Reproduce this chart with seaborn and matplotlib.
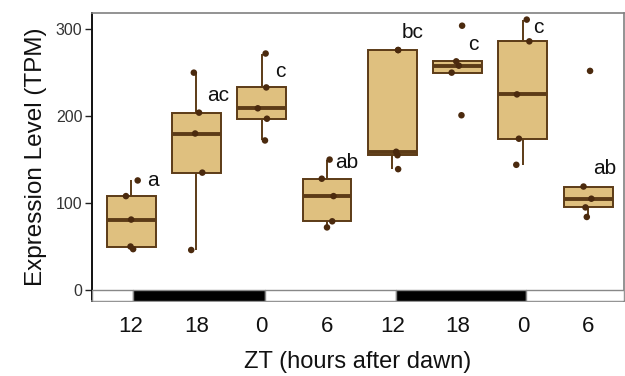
import numpy as np
import pandas as pd
import matplotlib
matplotlib.use("Agg")
import matplotlib.pyplot as plt
import seaborn as sns

# ---- data ----
zt_labels = ["12", "18", "0", "6", "12", "18", "0", "6"]
tpm_g1 = [126, 108, 81, 50, 47]
tpm_g2 = [250, 204, 180, 135, 46]
tpm_g3 = [272, 233, 209, 197, 172]
tpm_g4 = [150, 128, 108, 79, 72]
tpm_g5 = [276, 276, 159, 155, 139]
tpm_g6 = [304, 263, 258, 250, 201]
tpm_g7 = [311, 286, 225, 174, 144]
tpm_g8 = [252, 119, 105, 95, 84]
# horizontal jitter of each dot as seen in the reference (category units)
jit_g1 = [0.10, -0.08, 0.00, -0.01, 0.03]
jit_g2 = [-0.04, 0.04, -0.02, 0.09, -0.08]
jit_g3 = [0.06, 0.07, -0.06, 0.08, 0.05]
jit_g4 = [0.04, -0.08, 0.10, 0.08, 0.00]
jit_g5 = [0.09, 0.09, 0.06, 0.08, 0.09]
jit_g6 = [0.07, -0.02, 0.02, -0.09, 0.06]
jit_g7 = [0.06, 0.10, -0.09, -0.06, -0.10]
jit_g8 = [0.03, -0.07, 0.05, -0.04, -0.02]
sig_letters = ["a", "ac", "c", "ab", "bc", "c", "c", "ab"]
# light/dark bar: index boundaries of dark periods
dark_periods = [(0.03, 2.05), (4.05, 6.05)]

groups = [tpm_g1, tpm_g2, tpm_g3, tpm_g4, tpm_g5, tpm_g6, tpm_g7, tpm_g8]
jits = [jit_g1, jit_g2, jit_g3, jit_g4, jit_g5, jit_g6, jit_g7, jit_g8]

rows = []
for i, (vals, jj) in enumerate(zip(groups, jits)):
    for v, j in zip(vals, jj):
        rows.append({"grp": i, "tpm": v, "xpos": i + j})
df = pd.DataFrame(rows)

sns.set_style("white")
plt.rcParams["font.family"] = ["Liberation Sans", "DejaVu Sans"]

fill = "#DFC07F"
edge = "#5C3B17"
dot = "#4B2A0E"

fig = plt.figure(figsize=(6.25, 3.76), dpi=100)
ax = fig.add_axes([0.1472, 0.1995, 0.8512, 0.7659])

sns.boxplot(data=df, x="grp", y="tpm", order=list(range(8)), ax=ax,
            color=fill, linecolor=edge, linewidth=1.4, width=0.75,
            showfliers=False, showcaps=False, saturation=1,
            medianprops={"linewidth": 2.8, "color": edge},
            whiskerprops={"linewidth": 1.4, "color": edge},
            boxprops={"edgecolor": edge})
sns.scatterplot(data=df, x="xpos", y="tpm", ax=ax, color=dot, s=22,
                edgecolor="none", zorder=5, legend=False)

# significance letters
lab_dx = [0.33, 0.33, 0.28, 0.30, 0.31, 0.24, 0.23, 0.26]
lab_y = [126, 224, 251, 147, 296, 282, 302, 140]
for i, (t, dx, yy) in enumerate(zip(sig_letters, lab_dx, lab_y)):
    ax.text(i + dx, yy, t, ha="center", va="center", fontsize=15, color="#111111")

xl = (-0.6, 7.55)
yl = (-12.65, 318.6)
ax.set_xlim(*xl)
ax.set_ylim(*yl)

# light/dark bar below zero
segs = []
cols = []
edges = [xl[0]]
for a, b in dark_periods:
    edges += [a, b]
edges.append(xl[1])
for k in range(len(edges) - 1):
    segs.append((edges[k], edges[k + 1] - edges[k]))
    cols.append("white" if k % 2 == 0 else "black")
ax.broken_barh(segs, (yl[0], 0 - yl[0]), facecolors=cols,
               edgecolor="#888888", linewidth=1.0, zorder=3)

ax.set_yticks([0, 100, 200, 300])
ax.set_yticklabels(["0", "100", "200", "300"], fontsize=11.5, color="#333333")
ax.set_xticks(range(8))
ax.set_xticklabels(zt_labels, fontsize=16, color="#111111")
ax.tick_params(axis="y", length=5, width=1, color="#222222", pad=2, left=True)
ax.tick_params(axis="x", length=0, pad=11)

ax.set_xlabel("ZT (hours after dawn)", fontsize=17, color="#111111", labelpad=10)
ax.set_ylabel("Expression Level (TPM)", fontsize=17.5, color="#111111", labelpad=6)

for s in ["top", "right", "bottom"]:
    ax.spines[s].set_color("#808080")
    ax.spines[s].set_linewidth(1.2)
ax.spines["left"].set_color("#111111")
ax.spines["left"].set_linewidth(1.4)

fig.savefig("out.png", dpi=100)
